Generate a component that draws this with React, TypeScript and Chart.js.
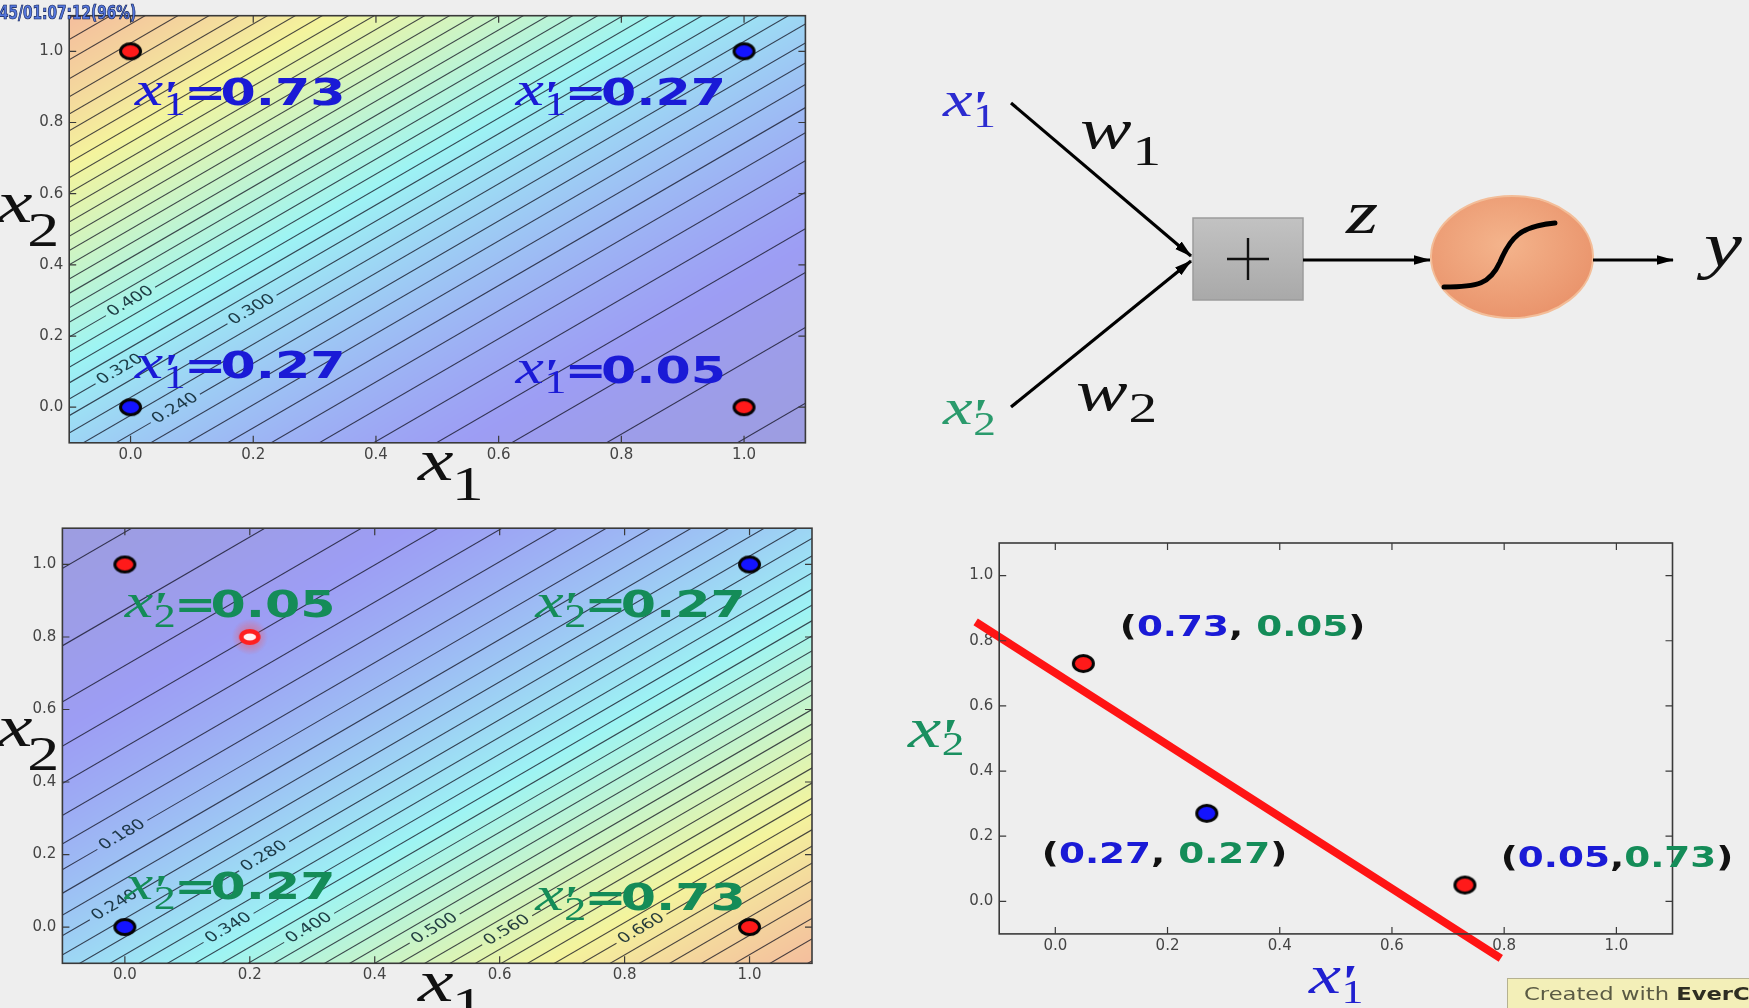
import React, { useEffect, useRef } from "react";
import { Chart, registerables } from "chart.js";

Chart.register(...registerables);

const PAGE_W = 1749;
const PAGE_H = 1008;
const SX = 4 / 3; // the slide is shown horizontally stretched (4:3 -> 16:9)
const PAGE_BG = [238, 238, 238];
const FIELD_ALPHA = 0.34;

const BLUE_TEXT = "#1a1ad6";
const GREEN_TEXT = "#148c58";

// ---------- data ----------
const AXIS_RANGE = [-0.1, 1.1];
const TICK_VALUES = [0.0, 0.2, 0.4, 0.6, 0.8, 1.0];

const CORNER_X1 = [0, 0, 1, 1];
const CORNER_X2 = [0, 1, 0, 1];
const CORNER_CLASS = ["blue", "red", "red", "blue"];

// hidden units: x' = sigmoid(w1*x1 + w2*x2 + b)   [w1, w2, b]
const UNIT1_WEIGHTS = [-2, 2, -1];
const UNIT2_WEIGHTS = [2, -2, -1];

const CONTOUR_LEVELS = [
  0.04, 0.06, 0.08, 0.1, 0.12, 0.14, 0.16, 0.18, 0.2, 0.22, 0.24, 0.26, 0.28,
  0.3, 0.32, 0.34, 0.36, 0.38, 0.4, 0.42, 0.44, 0.46, 0.48, 0.5, 0.52, 0.54,
  0.56, 0.58, 0.6, 0.62, 0.64, 0.66, 0.68, 0.7, 0.72, 0.74, 0.76, 0.78, 0.8,
];

const A_LABEL_LEVELS = [0.4, 0.3, 0.32, 0.24];
const A_LABEL_X1 = [0.0, 0.198, -0.017, 0.073];
const B_LABEL_LEVELS = [0.18, 0.24, 0.28, 0.34, 0.4, 0.5, 0.56, 0.66];
const B_LABEL_X1 = [-0.004, -0.016, 0.223, 0.166, 0.295, 0.496, 0.612, 0.827];

const A_TEXT_VALUES = ["0.73", "0.27", "0.27", "0.05"];
const A_TEXT_X1 = [0.007, 0.6275, 0.007, 0.6275];
const A_TEXT_X2 = [0.849, 0.849, 0.082, 0.068];

const B_TEXT_VALUES = ["0.05", "0.27", "0.27", "0.73"];
const B_TEXT_X1 = [0.0, 0.657, 0.0, 0.657];
const B_TEXT_X2 = [0.856, 0.856, 0.077, 0.047];

const CURSOR_POINT = [0.2, 0.8];

const HIDDEN_X1 = [0.05, 0.27, 0.73];
const HIDDEN_X2 = [0.73, 0.27, 0.05];
const HIDDEN_CLASS = ["red", "blue", "red"];
const BOUNDARY_X = [-0.142, 0.794];
const BOUNDARY_Y = [0.858, -0.175];
const PAIR_X = [0.115, -0.024, 0.794];
const PAIR_Y = [0.815, 0.118, 0.106];
const PAIR_FIRST = ["0.73", "0.27", "0.05"];
const PAIR_SEP = [", ", ", ", ","];
const PAIR_SECOND = ["0.05", "0.27", "0.73"];

// ---------- helpers ----------
const sigmoid = (z: number) => 1 / (1 + Math.exp(-z));
const logit = (p: number) => Math.log(p / (1 - p));
const clamp01 = (v: number) => Math.max(0, Math.min(1, v));
const jet = (t: number) => [
  clamp01(1.5 - Math.abs(4 * t - 3)),
  clamp01(1.5 - Math.abs(4 * t - 2)),
  clamp01(1.5 - Math.abs(4 * t - 1)),
];

function ellipseMarker(kind: string, rx = 11.5, ry = 9, bw = 3) {
  const c = document.createElement("canvas");
  c.width = Math.ceil(rx * 2 + 2);
  c.height = Math.ceil(ry * 2 + 2);
  const g = c.getContext("2d")!;
  g.beginPath();
  g.ellipse(c.width / 2, c.height / 2, rx - bw / 2, ry - bw / 2, 0, 0, Math.PI * 2);
  g.fillStyle = kind === "red" ? "#ff1a1a" : "#1414ff";
  g.fill();
  g.lineWidth = bw;
  g.strokeStyle = "#050505";
  g.stroke();
  return c;
}

function cursorMarker() {
  const c = document.createElement("canvas");
  c.width = 44;
  c.height = 36;
  const g = c.getContext("2d")!;
  const grad = g.createRadialGradient(22, 18, 2, 22, 18, 18);
  grad.addColorStop(0, "rgba(255,70,60,0.55)");
  grad.addColorStop(0.6, "rgba(255,80,70,0.25)");
  grad.addColorStop(1, "rgba(255,80,70,0)");
  g.fillStyle = grad;
  g.fillRect(0, 0, 44, 36);
  g.beginPath();
  g.ellipse(22, 18, 8.5, 5.8, 0, 0, Math.PI * 2);
  g.fillStyle = "#fff2f2";
  g.fill();
  g.lineWidth = 4.5;
  g.strokeStyle = "#ff2020";
  g.stroke();
  return c;
}

function drawText(ctx: CanvasRenderingContext2D, text: string, x: number, y: number, font: string, color: string) {
  ctx.save();
  ctx.translate(x, y);
  ctx.scale(SX, 1);
  ctx.font = font;
  ctx.fillStyle = color;
  ctx.textAlign = "left";
  ctx.textBaseline = "alphabetic";
  ctx.fillText(text, 0, 0);
  const w = ctx.measureText(text).width;
  ctx.restore();
  return x + w * SX;
}

type VarOpts = { F: number; color: string; sub: string; prime?: boolean; subDx?: number; subDy?: number; subScale?: number };
function drawVar(ctx: CanvasRenderingContext2D, x: number, y: number, o: VarOpts) {
  const subDx = o.subDx ?? 1.02;
  const subDy = o.subDy ?? 0.21;
  const subScale = o.subScale ?? 0.69;
  ctx.save();
  ctx.translate(x, y);
  ctx.scale(SX, 1);
  ctx.fillStyle = o.color;
  ctx.textAlign = "left";
  ctx.textBaseline = "alphabetic";
  ctx.font = `italic ${o.F}px "Liberation Serif"`;
  ctx.fillText("x", 0, 0);
  const wx = ctx.measureText("x").width;
  if (o.prime) {
    ctx.font = `italic bold ${Math.round(0.9 * o.F)}px "Liberation Serif"`;
    ctx.fillText("'", 0.9 * wx, 0.1 * o.F);
  }
  ctx.font = `${Math.round(subScale * o.F)}px "Liberation Serif"`;
  const s0 = subDx * wx;
  ctx.fillText(o.sub, s0, subDy * o.F);
  const end = s0 + ctx.measureText(o.sub).width;
  ctx.restore();
  return x + end * SX;
}

function drawUnitLabel(ctx: CanvasRenderingContext2D, x: number, y: number, sub: string, value: string, color: string) {
  const e = drawVar(ctx, x, y, { F: 48, color, sub, prime: true });
  const eqX = e - 0.03 * 48 * SX;
  const f = 'bold 38px "DejaVu Sans"';
  drawText(ctx, "=", eqX, y, f, color);
  drawText(ctx, value, eqX + 0.72 * 38 * SX, y, f, color);
}

function drawFrame(chart: any) {
  const { ctx, chartArea: a, scales } = chart;
  ctx.save();
  ctx.strokeStyle = "#3a3a3a";
  ctx.lineWidth = 1.6;
  ctx.strokeRect(a.left, a.top, a.right - a.left, a.bottom - a.top);
  ctx.lineWidth = 1.2;
  ctx.beginPath();
  TICK_VALUES.forEach((v) => {
    const px = scales.x.getPixelForValue(v);
    ctx.moveTo(px, a.bottom);
    ctx.lineTo(px, a.bottom - 7);
    ctx.moveTo(px, a.top);
    ctx.lineTo(px, a.top + 7);
    const py = scales.y.getPixelForValue(v);
    ctx.moveTo(a.left, py);
    ctx.lineTo(a.left + 7, py);
    ctx.moveTo(a.right, py);
    ctx.lineTo(a.right - 7, py);
  });
  ctx.stroke();
  ctx.restore();
}

function fieldPlugin(weights: number[]) {
  return {
    id: "field",
    beforeDatasetsDraw(chart: any) {
      const { ctx, chartArea: a, scales } = chart;
      const xs = scales.x;
      const ys = scales.y;
      const L = Math.round(a.left);
      const T = Math.round(a.top);
      const Wd = Math.round(a.right) - L;
      const Ht = Math.round(a.bottom) - T;
      const f = (u: number, v: number) => sigmoid(weights[0] * u + weights[1] * v + weights[2]);
      const corners = [f(xs.min, ys.min), f(xs.min, ys.max), f(xs.max, ys.min), f(xs.max, ys.max)];
      const vmin = Math.min(...corners);
      const vmax = Math.max(...corners);
      const img = ctx.createImageData(Wd, Ht);
      const us = new Float64Array(Wd);
      for (let i = 0; i < Wd; i++) us[i] = xs.getValueForPixel(L + i + 0.5);
      let k = 0;
      for (let j = 0; j < Ht; j++) {
        const v = ys.getValueForPixel(T + j + 0.5);
        for (let i = 0; i < Wd; i++) {
          const t = 0.07 + (0.71 * (f(us[i], v) - vmin)) / (vmax - vmin);
          const c = jet(t);
          img.data[k++] = PAGE_BG[0] * (1 - FIELD_ALPHA) + 255 * c[0] * FIELD_ALPHA;
          img.data[k++] = PAGE_BG[1] * (1 - FIELD_ALPHA) + 255 * c[1] * FIELD_ALPHA;
          img.data[k++] = PAGE_BG[2] * (1 - FIELD_ALPHA) + 255 * c[2] * FIELD_ALPHA;
          img.data[k++] = 255;
        }
      }
      ctx.putImageData(img, L, T);
    },
  };
}

const LABEL_GAP = 0.04;
function contourDatasets(weights: number[], labelLevels: number[], labelX1: number[]) {
  return CONTOUR_LEVELS.map((lev) => {
    const c = logit(lev) - weights[2];
    const x2At = (u: number) => (c - weights[0] * u) / weights[1];
    const idx = labelLevels.findIndex((l) => Math.abs(l - lev) < 1e-9);
    let data: any[] = [
      { x: -0.5, y: x2At(-0.5) },
      { x: 1.6, y: x2At(1.6) },
    ];
    if (idx >= 0) {
      const g = labelX1[idx];
      data = [
        { x: -0.5, y: x2At(-0.5) },
        { x: g - LABEL_GAP, y: x2At(g - LABEL_GAP) },
        { x: g, y: null },
        { x: g + LABEL_GAP, y: x2At(g + LABEL_GAP) },
        { x: 1.6, y: x2At(1.6) },
      ];
    }
    return {
      type: "line",
      data,
      borderColor: "rgba(15,15,30,0.75)",
      borderWidth: 1.1,
      pointRadius: 0,
      spanGaps: false,
      order: 2,
    };
  });
}

function drawContourLabels(chart: any, weights: number[], levels: number[], x1s: number[]) {
  const { ctx, scales } = chart;
  levels.forEach((lev, i) => {
    const c = logit(lev) - weights[2];
    const x2At = (u: number) => (c - weights[0] * u) / weights[1];
    const u = x1s[i];
    const px = scales.x.getPixelForValue(u);
    const py = scales.y.getPixelForValue(x2At(u));
    const dx = scales.x.getPixelForValue(u + 0.1) - px;
    const dy = scales.y.getPixelForValue(x2At(u + 0.1)) - py;
    const ang = Math.atan2(dy, dx / SX);
    ctx.save();
    ctx.translate(px, py);
    ctx.scale(SX, 1);
    ctx.rotate(ang);
    ctx.font = '14px "DejaVu Sans"';
    ctx.fillStyle = "rgba(10,35,45,0.88)";
    ctx.textAlign = "center";
    ctx.textBaseline = "middle";
    ctx.fillText(lev.toFixed(3), 0, 0);
    ctx.restore();
  });
}

function axisOptions(axis: "x" | "y", size: number) {
  return {
    type: "linear",
    min: AXIS_RANGE[0],
    max: AXIS_RANGE[1],
    bounds: "data",
    grid: { display: false, drawTicks: false },
    border: { display: false },
    ticks: {
      color: "#444",
      font: { family: "DejaVu Sans", size: 15 },
      padding: axis === "x" ? 3 : 6,
      autoSkip: false,
      maxRotation: 0,
      callback: (v: any) => Number(v).toFixed(1),
    },
    afterBuildTicks: (s: any) => {
      s.ticks = TICK_VALUES.map((v) => ({ value: v }));
    },
    afterFit: (s: any) => {
      if (axis === "x") s.height = size;
      else s.width = size;
    },
  };
}

type Area = { l: number; t: number; r: number; b: number };
const Y_AXIS_W = 60;
const X_AXIS_H = 40;
function baseOptions(area: Area) {
  return {
    responsive: false,
    animation: false,
    events: [],
    layout: {
      padding: {
        left: area.l - Y_AXIS_W,
        top: area.t,
        right: PAGE_W - area.r,
        bottom: PAGE_H - area.b - X_AXIS_H,
      },
    },
    plugins: { legend: { display: false }, tooltip: { enabled: false } },
    scales: { x: axisOptions("x", X_AXIS_H), y: axisOptions("y", Y_AXIS_W) },
  };
}

const AREA_A: Area = { l: 69.2, t: 15.7, r: 805.4, b: 442.8 };
const AREA_B: Area = { l: 62.4, t: 528.2, r: 812, b: 963.3 };
const AREA_C: Area = { l: 999.2, t: 543, r: 1672.5, b: 933.9 };

function cornerDataset() {
  return {
    type: "scatter",
    data: CORNER_X1.map((u, i) => ({ x: u, y: CORNER_X2[i] })),
    pointStyle: CORNER_CLASS.map((k) => ellipseMarker(k)),
    pointRadius: 10,
    order: 0,
  };
}

function configA() {
  return {
    type: "line",
    data: { datasets: [cornerDataset(), ...contourDatasets(UNIT1_WEIGHTS, A_LABEL_LEVELS, A_LABEL_X1)] },
    options: baseOptions(AREA_A),
    plugins: [
      fieldPlugin(UNIT1_WEIGHTS),
      {
        id: "overlayA",
        afterDatasetsDraw(chart: any) {
          const { ctx, scales } = chart;
          drawFrame(chart);
          drawContourLabels(chart, UNIT1_WEIGHTS, A_LABEL_LEVELS, A_LABEL_X1);
          A_TEXT_VALUES.forEach((val, i) => {
            drawUnitLabel(ctx, scales.x.getPixelForValue(A_TEXT_X1[i]), scales.y.getPixelForValue(A_TEXT_X2[i]), "1", val, BLUE_TEXT);
          });
          drawVar(ctx, -3, 222, { F: 60, color: "#111", sub: "2", subDx: 0.85, subDy: 0.4, subScale: 0.8 });
          drawVar(ctx, 418, 480, { F: 60, color: "#111", sub: "1", subDx: 0.95, subDy: 0.33, subScale: 0.8 });
        },
      },
    ],
  };
}

function configB() {
  return {
    type: "line",
    data: {
      datasets: [
        cornerDataset(),
        {
          type: "scatter",
          data: [{ x: CURSOR_POINT[0], y: CURSOR_POINT[1] }],
          pointStyle: cursorMarker(),
          pointRadius: 10,
          order: 1,
        },
        ...contourDatasets(UNIT2_WEIGHTS, B_LABEL_LEVELS, B_LABEL_X1),
      ],
    },
    options: baseOptions(AREA_B),
    plugins: [
      fieldPlugin(UNIT2_WEIGHTS),
      {
        id: "overlayB",
        afterDatasetsDraw(chart: any) {
          const { ctx, scales } = chart;
          drawFrame(chart);
          drawContourLabels(chart, UNIT2_WEIGHTS, B_LABEL_LEVELS, B_LABEL_X1);
          B_TEXT_VALUES.forEach((val, i) => {
            drawUnitLabel(ctx, scales.x.getPixelForValue(B_TEXT_X1[i]), scales.y.getPixelForValue(B_TEXT_X2[i]), "2", val, GREEN_TEXT);
          });
          drawVar(ctx, -3, 746, { F: 60, color: "#111", sub: "2", subDx: 0.85, subDy: 0.4, subScale: 0.8 });
          drawVar(ctx, 418, 1001, { F: 60, color: "#111", sub: "1", subDx: 0.95, subDy: 0.33, subScale: 0.8 });
        },
      },
    ],
  };
}

function configC() {
  return {
    type: "line",
    data: {
      datasets: [
        {
          type: "scatter",
          data: HIDDEN_X1.map((u, i) => ({ x: u, y: HIDDEN_X2[i] })),
          pointStyle: HIDDEN_CLASS.map((k) => ellipseMarker(k, 11.5, 9.5, 3)),
          pointRadius: 10,
          order: 0,
        },
        {
          type: "line",
          data: BOUNDARY_X.map((u, i) => ({ x: u, y: BOUNDARY_Y[i] })),
          borderColor: "#ff1414",
          borderWidth: 8,
          borderCapStyle: "butt",
          pointRadius: 0,
          clip: false,
          order: 1,
        },
      ],
    },
    options: baseOptions(AREA_C),
    plugins: [
      {
        id: "overlayC",
        afterDatasetsDraw(chart: any) {
          const { ctx, scales } = chart;
          drawFrame(chart);
          const f = 'bold 28px "DejaVu Sans"';
          PAIR_FIRST.forEach((a, i) => {
            const x = scales.x.getPixelForValue(PAIR_X[i]);
            const y = scales.y.getPixelForValue(PAIR_Y[i]);
            let cx = drawText(ctx, "(", x, y, f, "#111");
            cx = drawText(ctx, a, cx, y, f, BLUE_TEXT);
            cx = drawText(ctx, PAIR_SEP[i], cx, y, f, "#111");
            cx = drawText(ctx, PAIR_SECOND[i], cx, y, f, GREEN_TEXT);
            drawText(ctx, ")", cx, y, f, "#111");
          });
          drawVar(ctx, 908, 747, { F: 56, color: "#1a9060", sub: "2", prime: true, subDy: 0.15, subScale: 0.6 });
          drawVar(ctx, 1309, 993, { F: 54, color: "#2020d0", sub: "1", prime: true, subDy: 0.18, subScale: 0.62 });
        },
      },
    ],
  };
}

// ---------- diagram (top right) ----------
function SvgVar(props: { x: number; y: number; F: number; color: string; base: string; baseW: number; sub?: string; prime?: boolean; subDy?: number; subScale?: number }) {
  const { x, y, F, color, base, baseW, sub, prime } = props;
  const subDy = props.subDy ?? 0.24;
  const subScale = props.subScale ?? 0.68;
  return (
    <g transform={`translate(${x},${y}) scale(${SX},1)`} fill={color}>
      <text x={0} y={0} fontFamily="Liberation Serif" fontStyle="italic" fontSize={F}>
        {base}
      </text>
      {prime ? (
        <text x={baseW * F * 0.9} y={0.1 * F} fontFamily="Liberation Serif" fontStyle="italic" fontWeight="bold" fontSize={0.9 * F}>
          {"'"}
        </text>
      ) : null}
      {sub ? (
        <text x={baseW * F * 1.02} y={subDy * F} fontFamily="Liberation Serif" fontSize={subScale * F}>
          {sub}
        </text>
      ) : null}
    </g>
  );
}

function Diagram() {
  return (
    <svg width={PAGE_W} height={PAGE_H} style={{ position: "absolute", left: 0, top: 0 }}>
      <defs>
        <marker id="arrowHead" viewBox="0 0 16 10" refX="15" refY="5" markerWidth="5.5" markerHeight="3.5" orient="auto" markerUnits="strokeWidth">
          <path d="M0,0.5 L16,5 L0,9.5 z" fill="#000" />
        </marker>
        <linearGradient id="boxFill" x1="0" y1="0" x2="0" y2="1">
          <stop offset="0" stopColor="#c2c2c2" />
          <stop offset="1" stopColor="#a9a9a9" />
        </linearGradient>
        <radialGradient id="nodeFill" cx="0.45" cy="0.4" r="0.65">
          <stop offset="0" stopColor="#f4b48c" />
          <stop offset="1" stopColor="#e9926a" />
        </radialGradient>
      </defs>
      <line x1={1011} y1={103} x2={1191} y2={256} stroke="#000" strokeWidth={3.2} markerEnd="url(#arrowHead)" />
      <line x1={1011} y1={407} x2={1191} y2={261} stroke="#000" strokeWidth={3.2} markerEnd="url(#arrowHead)" />
      <rect x={1193} y={218} width={110} height={82} fill="url(#boxFill)" stroke="#9c9c9c" strokeWidth={1.5} />
      <line x1={1227} y1={259} x2={1269} y2={259} stroke="#111" strokeWidth={2.4} />
      <line x1={1248} y1={238} x2={1248} y2={280} stroke="#111" strokeWidth={2.4} />
      <line x1={1303} y1={260} x2={1430} y2={260} stroke="#000" strokeWidth={3.2} markerEnd="url(#arrowHead)" />
      <ellipse cx={1512} cy={257} rx={81} ry={61} fill="url(#nodeFill)" stroke="#f3bd98" strokeWidth={2} />
      <path d="M1444 287 C1478 287 1490 284 1500 262 C1510 238 1520 226 1555 223" fill="none" stroke="#000" strokeWidth={5} strokeLinecap="round" />
      <line x1={1593} y1={260} x2={1673} y2={260} stroke="#000" strokeWidth={3.2} markerEnd="url(#arrowHead)" />
      <SvgVar x={943} y={116} F={50} color="#2b2bd0" base="x" baseW={0.444} sub="1" prime subDy={0.22} />
      <SvgVar x={943} y={424} F={50} color="#2a9a6c" base="x" baseW={0.444} sub="2" prime subDy={0.22} />
      <SvgVar x={1080} y={148} F={58} color="#111" base="w" baseW={0.667} sub="1" subDy={0.3} subScale={0.74} />
      <SvgVar x={1076} y={410} F={58} color="#111" base="w" baseW={0.667} sub="2" subDy={0.2} subScale={0.74} />
      <SvgVar x={1346} y={233} F={62} color="#111" base="z" baseW={0.389} />
      <SvgVar x={1704} y={266} F={64} color="#111" base="y" baseW={0.444} />
    </svg>
  );
}

export default function App() {
  const refA = useRef<HTMLCanvasElement>(null);
  const refB = useRef<HTMLCanvasElement>(null);
  const refC = useRef<HTMLCanvasElement>(null);

  useEffect(() => {
    const charts = [
      new Chart(refA.current as HTMLCanvasElement, configA() as any),
      new Chart(refB.current as HTMLCanvasElement, configB() as any),
      new Chart(refC.current as HTMLCanvasElement, configC() as any),
    ];
    return () => charts.forEach((c) => c.destroy());
  }, []);

  const canvasStyle: React.CSSProperties = { position: "absolute", left: 0, top: 0, width: PAGE_W, height: PAGE_H };

  return (
    <div
      style={{
        position: "fixed",
        left: 0,
        top: 0,
        width: PAGE_W,
        height: PAGE_H,
        overflow: "hidden",
        background: "rgb(238,238,238)",
      }}
    >
      <canvas ref={refA} width={PAGE_W} height={PAGE_H} style={canvasStyle} />
      <canvas ref={refB} width={PAGE_W} height={PAGE_H} style={canvasStyle} />
      <canvas ref={refC} width={PAGE_W} height={PAGE_H} style={canvasStyle} />
      <Diagram />
      <div
        style={{
          position: "absolute",
          left: -1,
          top: 2,
          font: 'bold 19px "Liberation Sans Narrow", "DejaVu Sans Condensed", sans-serif',
          color: "#5577dd",
          WebkitTextStroke: "0.7px #0a1a50",
          lineHeight: "20px",
          whiteSpace: "nowrap",
          transform: "scaleX(0.8)",
          transformOrigin: "left top",
        }}
      >
        45/01:07:12(96%)
      </div>
      <div
        style={{
          position: "absolute",
          left: 1507,
          top: 978,
          width: 260,
          height: 40,
          background: "#f3efb8",
          border: "1px solid #b5b190",
          boxSizing: "border-box",
        }}
      >
        <div
          style={{
            position: "absolute",
            left: 16,
            top: 5,
            transform: `scaleX(${SX})`,
            transformOrigin: "left top",
            font: '17px "DejaVu Sans", sans-serif',
            color: "#5a5a44",
            whiteSpace: "nowrap",
            lineHeight: "20px",
          }}
        >
          Created with <b style={{ color: "#2e2e22" }}>EverC</b>
        </div>
      </div>
    </div>
  );
}
